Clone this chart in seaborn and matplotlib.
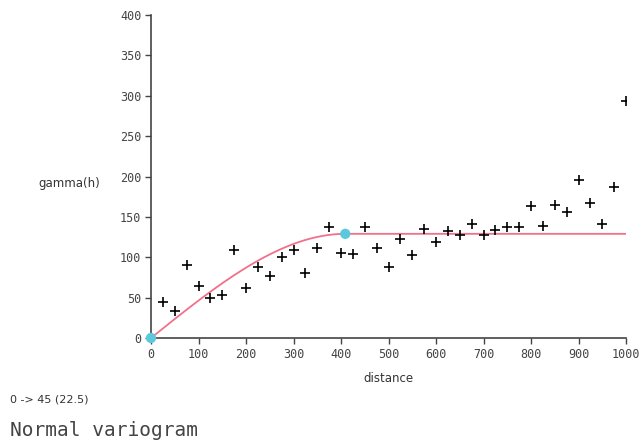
import numpy as np
import pandas as pd
import matplotlib
matplotlib.use("Agg")
import matplotlib.pyplot as plt
import seaborn as sns

# Experimental variogram (lag distance, semivariance)
distance = [25, 50, 75, 100, 125, 150, 175, 200, 225, 250,
            275, 300, 325, 350, 375, 400, 425, 450, 475, 500,
            525, 550, 575, 600, 625, 650, 675, 700, 725, 750,
            775, 800, 825, 850, 875, 900, 925, 950, 975, 1000]
gamma = [45, 33, 90, 64, 49, 53, 109, 62, 88, 77,
         100, 109, 81, 111, 137, 105, 104, 137, 112, 88,
         122, 103, 135, 119, 132, 127, 141, 127, 134, 138,
         137, 164, 139, 165, 156, 196, 167, 141, 187, 293]

# Fitted spherical model
model_sill = 129
model_range = 409
model_end = 1000

x_ticks = [0, 100, 200, 300, 400, 500, 600, 700, 800, 900, 1000]
y_ticks = [0, 50, 100, 150, 200, 250, 300, 350, 400]
direction_label = "0 -> 45 (22.5)"
title_label = "Normal variogram"

h = np.linspace(0, model_end, 400)
r = np.clip(h / model_range, 0, 1)
g_model = model_sill * (1.5 * r - 0.5 * r ** 3)

exp_df = pd.DataFrame({"distance": distance, "gamma": gamma})
model_df = pd.DataFrame({"distance": h, "gamma": g_model})
knots_df = pd.DataFrame({"distance": [0, model_range], "gamma": [0, model_sill]})

sns.set_theme(style="white")
plt.rcParams["font.family"] = ["DejaVu Sans"]

fig = plt.figure(figsize=(6.41, 4.42), dpi=100)
ax = fig.add_axes([151 / 641, 1 - 338 / 442, 475 / 641, 323 / 442])

sns.lineplot(data=model_df, x="distance", y="gamma", ax=ax,
             color="#f2708c", linewidth=1.3, zorder=2)
sns.scatterplot(data=exp_df, x="distance", y="gamma", ax=ax,
                marker="+", s=55, color="black", linewidth=1.2, zorder=3)
sns.scatterplot(data=knots_df, x="distance", y="gamma", ax=ax,
                color="#5cc8dc", s=55, edgecolor="none", zorder=4,
                clip_on=False)

ax.set_xlim(0, 1000)
ax.set_ylim(0, 400)
ax.set_xticks(x_ticks)
ax.set_yticks(y_ticks)
tick_font = dict(family="DejaVu Sans Mono", size=8.5, color="#444444")
ax.set_xticklabels([str(t) for t in x_ticks], **tick_font)
ax.set_yticklabels([str(t) for t in y_ticks], **tick_font)
ax.tick_params(axis="both", direction="out", length=4, width=1,
               color="#444444", pad=3, bottom=True, left=True)
ax.set_xlabel("")
ax.set_ylabel("")
for side in ("top", "right"):
    ax.spines[side].set_visible(False)
for side in ("left", "bottom"):
    ax.spines[side].set_color("#444444")
    ax.spines[side].set_linewidth(1.2)

fig.text(100 / 641, 1 - 183 / 442, "gamma(h)", ha="right", va="center",
         fontsize=8.5, color="#333333")
fig.text(388 / 641, 1 - 378 / 442, "distance", ha="center", va="center",
         fontsize=8.5, color="#333333")
fig.text(10 / 641, 1 - 399 / 442, direction_label, ha="left", va="center",
         fontsize=8, color="#333333")
fig.text(10 / 641, 1 - 430 / 442, title_label, ha="left", va="center",
         fontsize=14, color="#444444", family="DejaVu Sans Mono")

fig.savefig("out.png", dpi=100)
